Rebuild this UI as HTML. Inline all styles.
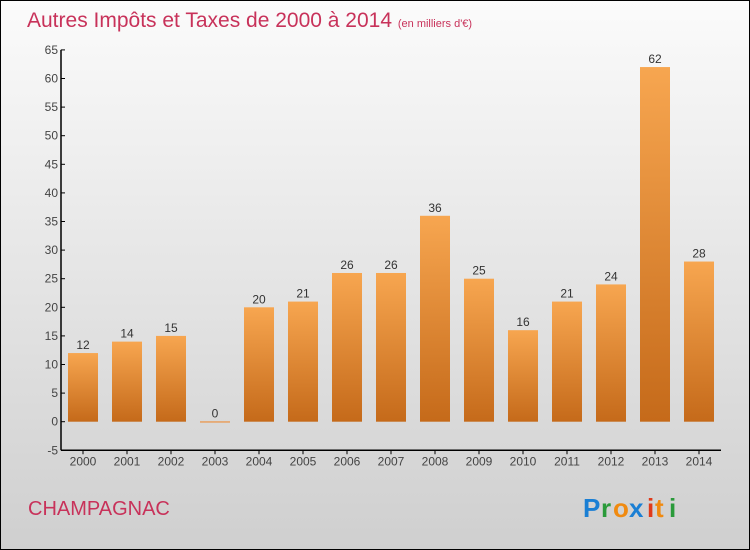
<!DOCTYPE html>
<html><head><meta charset="utf-8"><style>
body{margin:0}
#wrap{position:relative;width:748px;height:548px;border:1px solid #000;background:linear-gradient(#fbfbfb,#cfcfcf);font-family:"Liberation Sans",sans-serif;overflow:hidden}
</style></head><body>
<div id="wrap">
<svg width="748" height="548" id="svg">
<defs><linearGradient id="bg" x1="0" y1="0" x2="0" y2="1"><stop offset="0" stop-color="#f7a650"/><stop offset="1" stop-color="#c56a1a"/></linearGradient></defs>
<text x="26" y="26" font-size="21" fill="#c8325a">Autres Impôts et Taxes de 2000 à 2014 <tspan font-size="11">(en milliers d'€)</tspan></text>
<text x="27" y="514" font-size="20" fill="#c8325a">CHAMPAGNAC</text>
<g font-size="26" font-weight="bold">
<text x="582" y="516" fill="#1a7fd4">P</text><text x="600" y="516" fill="#2a9a3a">r</text><text x="612" y="516" fill="#f08a10">o</text><text x="628" y="516" fill="#1a7fd4">x</text><text x="646" y="516" fill="#e03a1a">i</text><text x="654" y="516" fill="#f08a10">t</text><text x="668" y="516" fill="#2a9a3a">i</text></g>
<g id="plot"></g>
</svg></div>
<script>
const categories=["2000","2001","2002","2003","2004","2005","2006","2007","2008","2009","2010","2011","2012","2013","2014"];
const values=[12,14,15,0,20,21,26,26,36,25,16,21,24,62,28];
const yTicks=[-5,0,5,10,15,20,25,30,35,40,45,50,55,60,65];
const g=document.getElementById('plot');const NS="http://www.w3.org/2000/svg";
const x0=60,step=44,yv=v=>420.7-v*(28.6/5);
function mk(t,a){const e=document.createElementNS(NS,t);for(const k in a)e.setAttribute(k,a[k]);g.appendChild(e);return e;}
let ax=mk('line',{x1:x0,y1:yv(65),x2:x0,y2:yv(-5),stroke:'#000','stroke-width':1.5});


let bx=mk('line',{x1:x0,y1:yv(-5),x2:x0+step*15,y2:yv(-5),stroke:'#000','stroke-width':1.5});


yTicks.forEach(t=>{const y=yv(t);mk('line',{x1:x0,y1:y,x2:x0+4,y2:y,stroke:'#000'});
const l=mk('text',{x:x0-3,y:y+4,'text-anchor':'end','font-size':12,fill:'#444'});l.textContent=t;

});
categories.forEach((c,i)=>{const cx=x0+step*(i+0.5),v=values[i];
mk('line',{x1:cx,y1:yv(-5),x2:cx,y2:yv(-5)+4,stroke:'#000'});
const l=mk('text',{x:cx,y:yv(-5)+15,'text-anchor':'middle','font-size':12,fill:'#444'});l.textContent=c;


const top=yv(Math.max(v,0)),h=Math.max(Math.abs(yv(0)-top),1.5);
const b=mk('rect',{x:cx-15,y:v>0?top:yv(0)-0.5,width:30,height:h,fill:v>0?'url(#bg)':'#e8a060'});


const vl=mk('text',{x:cx,y:(v>0?top:yv(0))-4,'text-anchor':'middle','font-size':12,fill:'#333'});vl.textContent=v;

});
</script>
</body></html>
